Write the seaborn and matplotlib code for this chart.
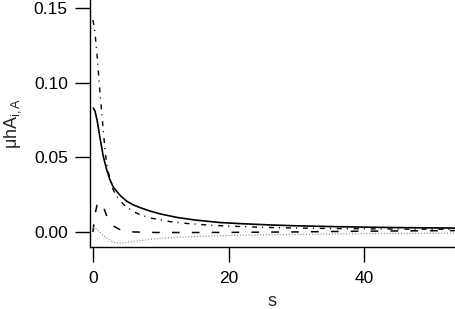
import matplotlib
matplotlib.use("Agg")
import matplotlib.pyplot as plt
import seaborn as sns
from matplotlib.ticker import FormatStrFormatter

# curves
s_solid = [0.05, 0.3, 0.6, 1, 1.5, 2, 2.5, 3, 4, 5, 6, 7, 8.4, 10, 12.4, 15,
           18.7, 22, 26, 30, 35, 40, 45, 50, 53.4]
y_solid = [0.083, 0.081, 0.075, 0.064, 0.051, 0.042, 0.035, 0.030, 0.0245, 0.0205,
           0.018, 0.0162, 0.014, 0.012, 0.0097, 0.008, 0.0063, 0.0055, 0.0047,
           0.0041, 0.0036, 0.0032, 0.0029, 0.0027, 0.0026]

s_dashdot = [0.0, 0.25, 0.5, 0.75, 1, 1.25, 1.5, 1.75, 2, 2.5, 3, 3.5, 4, 4.5, 5,
             6, 7, 8.4, 10, 11.4, 14, 17, 20, 25, 30, 35, 40, 45, 50, 53.4]
y_dashdot = [0.142, 0.135, 0.124, 0.110, 0.095, 0.082, 0.069, 0.056, 0.046, 0.035,
             0.028, 0.024, 0.021, 0.0185, 0.0165, 0.0135, 0.0115, 0.0094, 0.008,
             0.0069, 0.0056, 0.0046, 0.0039, 0.0031, 0.0026, 0.0023, 0.0021,
             0.0019, 0.0018, 0.0018]

s_dashed = [0.0, 0.2, 0.4, 0.6, 0.9, 1.2, 1.6, 2, 2.5, 3, 4, 5, 6, 8, 10, 15, 20,
            30, 40, 53.4]
y_dashed = [0.0, 0.008, 0.014, 0.018, 0.020, 0.0195, 0.016, 0.011, 0.0067, 0.004,
            0.0015, 0.0005, 0.0, -0.0003, -0.0004, -0.0004, -0.0003, 0.0, 0.0005,
            0.0009]

s_dotted = [0.0, 0.5, 1, 1.5, 2, 2.5, 3, 3.5, 4, 5, 6, 8, 10, 12, 15, 20, 25, 30,
            40, 50, 53.4]
y_dotted = [0.003, 0.002, 0.0, -0.0022, -0.004, -0.0057, -0.0068, -0.0074,
            -0.0075, -0.0071, -0.0064, -0.0052, -0.0043, -0.0037, -0.0031,
            -0.0024, -0.002, -0.0017, -0.0012, -0.0009, -0.0008]

x_ticks = [0, 20, 40]
y_ticks = [0.0, 0.05, 0.10, 0.15]

sns.set_theme(style="ticks")
plt.rcParams["font.family"] = ["Liberation Sans", "DejaVu Sans"]
plt.rcParams["mathtext.fontset"] = "custom"
plt.rcParams["mathtext.rm"] = "Liberation Sans"
plt.rcParams["mathtext.it"] = "Liberation Sans:italic"

fig = plt.figure(figsize=(4.55, 3.09), dpi=100)
ax = fig.add_axes([90 / 455, 62 / 309, 365 / 455, 247 / 309])

sns.lineplot(x=s_solid, y=y_solid, ax=ax, color="black", lw=1.2)
sns.lineplot(x=s_dashdot, y=y_dashdot, ax=ax, color="black", lw=1.0,
             linestyle=(0, (3.6, 3.6, 0.8, 4.2)))
sns.lineplot(x=s_dashed, y=y_dashed, ax=ax, color="black", lw=1.1,
             linestyle=(0, (5, 8)))
sns.lineplot(x=s_dotted, y=y_dotted, ax=ax, color="#888888", lw=0.9,
             linestyle=(0, (0.8, 1.5)))

ax.set_xlim(-0.44, 53.4)
ax.set_ylim(-0.0101, 0.1554)
ax.set_xticks(x_ticks)
ax.set_yticks(y_ticks)
ax.yaxis.set_major_formatter(FormatStrFormatter("%.2f"))

for side in ["top", "right"]:
    ax.spines[side].set_visible(False)
for side in ["left", "bottom"]:
    ax.spines[side].set_linewidth(1.0)
    ax.spines[side].set_color("black")

ax.tick_params(axis="both", direction="out", length=11, width=1.0,
               labelsize=12.5, colors="black")
ax.tick_params(axis="x", pad=6)
ax.tick_params(axis="y", pad=5)
ax.set_xlabel("s", fontsize=13, labelpad=5)
ax.set_ylabel("μhA$_{\\mathrm{i,A}}$", fontsize=13, labelpad=8)

fig.savefig("out.png", dpi=100)
